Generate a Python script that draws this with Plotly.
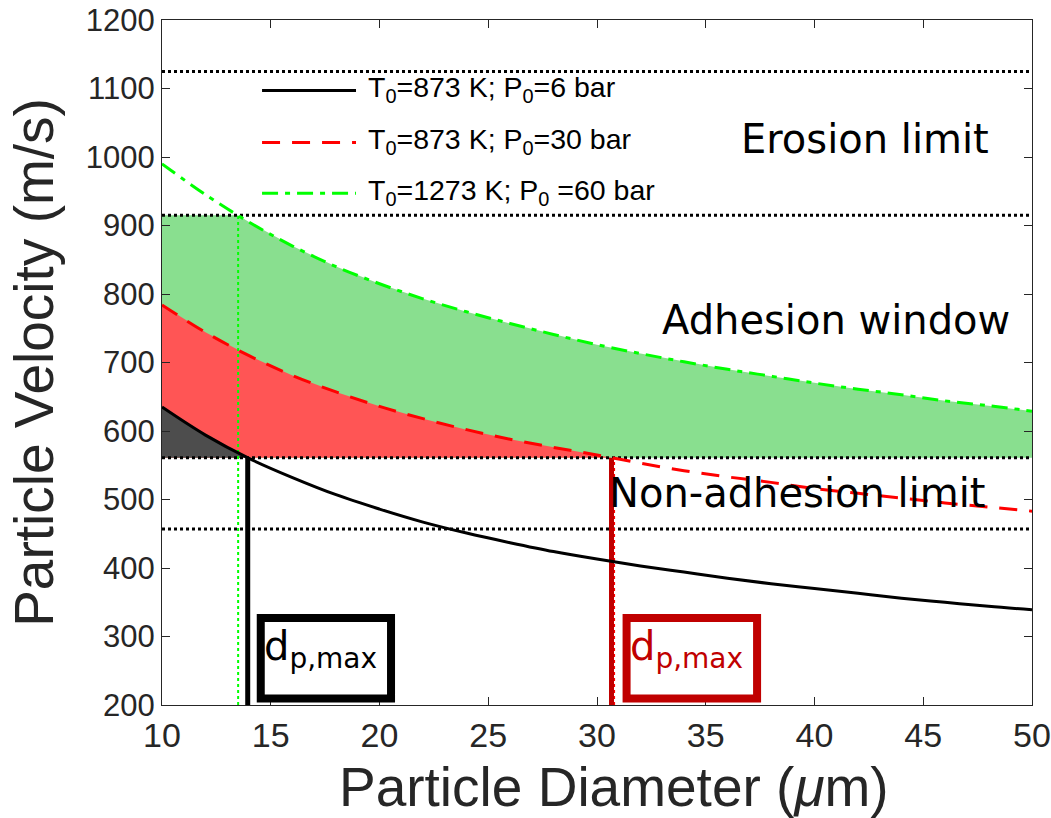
import plotly.graph_objects as go

# Particle diameter (um) and impact velocities (m/s) for the three stagnation conditions
diameter = [10, 12, 14, 16, 18, 20, 22, 24, 26, 28, 30, 32, 34, 36, 38, 40, 42, 44, 46, 48, 50]
v_873_6 = [635, 594, 560, 532, 507, 486, 467, 451, 437, 424, 413, 403, 394, 385, 377, 370, 363, 356, 350, 344, 339]
v_873_30 = [784, 744, 710, 681, 657, 636, 618, 602, 588, 576, 565, 553, 542, 533, 525, 516, 509, 502, 495, 489, 483]
v_1273_60 = [990, 945, 905, 870, 840, 815, 793, 774, 757, 741, 726, 713, 701, 690, 680, 670, 661, 653, 644, 637, 629]

series_names = ["T<sub>0</sub>=873 K; P<sub>0</sub>=6 bar",
                "T<sub>0</sub>=873 K; P<sub>0</sub>=30 bar",
                "T<sub>0</sub>=1273 K; P<sub>0</sub> =60 bar"]

# Horizontal reference velocities (m/s)
erosion_upper = 1125
erosion_limit = 915
adhesion_limit = 561
non_adhesion_lower = 457

x_ticks = [10, 15, 20, 25, 30, 35, 40, 45, 50]
y_ticks = [200, 300, 400, 500, 600, 700, 800, 900, 1000, 1100, 1200]

GREEN_FILL = "rgb(137,223,143)"
RED_FILL = "rgb(255,85,85)"
GRAY_FILL = "rgb(77,77,77)"
DARK_RED = "#C00000"
AXIS_GRAY = "#262626"


def crossing(x, y, level):
    """First x where the polyline y(x) crosses the given level."""
    for i in range(len(x) - 1):
        y0, y1 = y[i], y[i + 1]
        if (y0 - level) * (y1 - level) <= 0 and y0 != y1:
            t = (level - y0) / (y1 - y0)
            return x[i] + t * (x[i + 1] - x[i])
    return None


def band(x, y, lo, hi=None):
    """Polygon between the level lo and the curve (capped at hi) where the curve is above lo."""
    pts = []
    for i in range(len(x)):
        pts.append((x[i], y[i]))
        if i < len(x) - 1:
            for level in (hi, lo):
                if level is None:
                    continue
                y0, y1 = y[i], y[i + 1]
                if (y0 - level) * (y1 - level) < 0:
                    t = (level - y0) / (y1 - y0)
                    pts.append((x[i] + t * (x[i + 1] - x[i]), level))
    keep = [(px, min(py, hi) if hi is not None else py) for px, py in pts if py >= lo - 1e-9]
    px = [p[0] for p in keep]
    py = [p[1] for p in keep]
    return px + [px[-1], px[0], px[0]], py + [lo, lo, py[0]]


fig = go.Figure()

# Adhesion window bands
for yv, col in ((v_1273_60, GREEN_FILL), (v_873_30, RED_FILL), (v_873_6, GRAY_FILL)):
    bx, by = band(diameter, yv, adhesion_limit, erosion_limit)
    fig.add_trace(go.Scatter(x=bx, y=by, fill="toself", fillcolor=col, mode="lines",
                             line=dict(width=0), hoverinfo="skip", showlegend=False))

# Dotted limit lines
for level in (erosion_upper, erosion_limit, adhesion_limit, non_adhesion_lower):
    fig.add_trace(go.Scatter(x=[diameter[0], diameter[-1]], y=[level, level], mode="lines",
                             line=dict(color="black", width=3, dash="dot"),
                             hoverinfo="skip", showlegend=False))

# Maximum particle diameter markers
d_green = crossing(diameter, v_1273_60, erosion_limit)
d_black = crossing(diameter, v_873_6, adhesion_limit)
d_red = crossing(diameter, v_873_30, adhesion_limit)

fig.add_trace(go.Scatter(x=[d_green, d_green], y=[y_ticks[0], erosion_limit], mode="lines",
                         line=dict(color="#00FF00", width=2, dash="dot"), showlegend=False))
fig.add_trace(go.Scatter(x=[d_black, d_black], y=[y_ticks[0], adhesion_limit], mode="lines",
                         line=dict(color="black", width=5), showlegend=False))
fig.add_trace(go.Scatter(x=[d_red + 0.13, d_red + 0.13], y=[y_ticks[0], adhesion_limit], mode="lines",
                         line=dict(color="#FF0000", width=1.5, dash="dot"), showlegend=False))
fig.add_trace(go.Scatter(x=[d_red, d_red], y=[y_ticks[0], adhesion_limit], mode="lines",
                         line=dict(color=DARK_RED, width=5), showlegend=False))

# Velocity curves
styles = [dict(color="black", width=3, dash="solid"),
          dict(color="#FF0000", width=3, dash="18px,12px"),
          dict(color="#00FF00", width=3, dash="16px,7px,5px,7px")]
for yv, name, st in zip((v_873_6, v_873_30, v_1273_60), series_names, styles):
    fig.add_trace(go.Scatter(x=diameter, y=yv, mode="lines", name=name,
                             line=dict(shape="spline", smoothing=1.0, **st), showlegend=False))

# Legend drawn in paper coordinates
legend_rows = [0.897, 0.821, 0.747]
for row, name, st in zip(legend_rows, series_names, styles):
    fig.add_shape(type="line", xref="paper", yref="paper", x0=0.115, x1=0.223, y0=row, y1=row,
                  line=dict(color=st["color"], width=st["width"], dash=st["dash"]))
    fig.add_annotation(xref="paper", yref="paper", x=0.234, y=row + 0.002, text=name,
                       showarrow=False, xanchor="left", yanchor="middle",
                       font=dict(family="Liberation Sans, Arial", size=28.5, color="black"))

# Region labels
region_labels = [("Erosion limit", 42.3, 1026), ("Adhesion window", 41.0, 762),
                 ("Non-adhesion limit", 39.2, 509)]
for txt, xx, yy in region_labels:
    fig.add_annotation(x=xx, y=yy, text=txt, showarrow=False, xanchor="center", yanchor="middle",
                       font=dict(family="DejaVu Sans", size=40, color="black"))

# d_p,max boxes
boxes = [(14.54, 20.53, "black"), (31.36, 37.36, DARK_RED)]
for x0, x1, col in boxes:
    fig.add_shape(type="rect", x0=x0, x1=x1, y0=209.5, y1=327, line=dict(color=col, width=8),
                  fillcolor="white", layer="above")
    fig.add_annotation(x=x0 + 0.08, y=282, text="d<sub>p,max</sub>", showarrow=False,
                       xanchor="left", yanchor="middle",
                       font=dict(family="DejaVu Sans", size=40, color=col))

# x-axis title placed below the tick labels
fig.add_annotation(xref="paper", yref="paper", x=0.519, y=-0.119, text="Particle Diameter (<i>μ</i>m)",
                   showarrow=False, xanchor="center", yanchor="middle", borderpad=0,
                   font=dict(family="Liberation Sans, Arial", size=55, color=AXIS_GRAY))

axis_common = dict(showline=True, linecolor=AXIS_GRAY, linewidth=1.3, mirror="ticks",
                   ticks="inside", ticklen=8, tickcolor=AXIS_GRAY, showgrid=False, zeroline=False,
                   ticklabeloverflow="allow", automargin=False)

fig.update_layout(
    width=1051, height=818,
    margin=dict(l=162, r=19, t=20, b=113),
    plot_bgcolor="white", paper_bgcolor="white",
    showlegend=False,
    xaxis=dict(range=[10, 50], tickvals=x_ticks, **axis_common,
               tickfont=dict(family="Liberation Sans Narrow, Liberation Sans", size=34, color=AXIS_GRAY)),
    yaxis=dict(range=[200, 1200], tickvals=y_ticks, **axis_common,
               tickfont=dict(family="Liberation Sans, Arial", size=31, color=AXIS_GRAY),
               title=dict(text="Particle Velocity (m/s)", standoff=14,
                          font=dict(family="Liberation Sans, Arial", size=55, color=AXIS_GRAY))),
)

fig.write_html("out.html")
